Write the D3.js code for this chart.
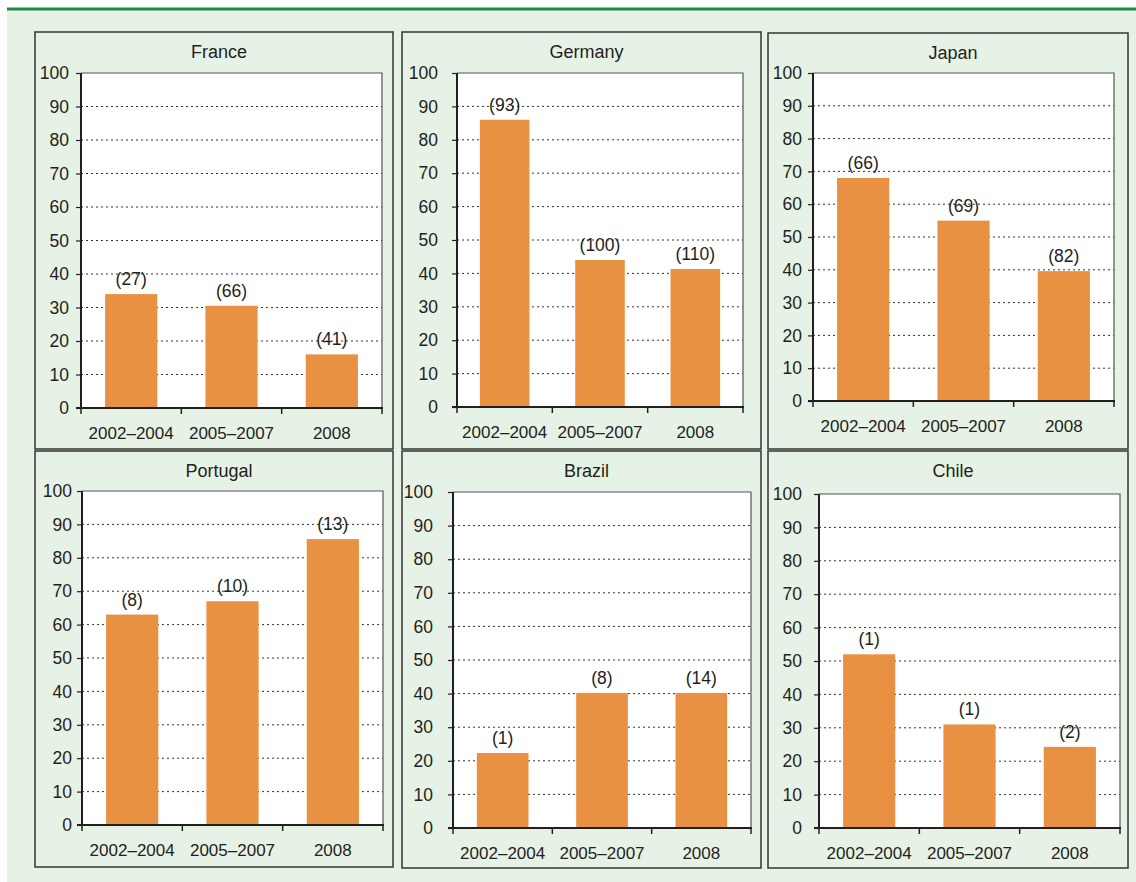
<!DOCTYPE html>
<html>
<head>
<meta charset="utf-8">
<script src="https://cdn.jsdelivr.net/npm/d3@7"></script>
<style>
  body { margin: 0; background: #fff; }
  svg { display: block; font-family: "Liberation Sans", Arial, sans-serif; }
</style>
</head>
<body>
<script>
// ---- data ----
var countries = ["France", "Germany", "Japan", "Portugal", "Brazil", "Chile"];
var periods = ["2002\u20132004", "2005\u20132007", "2008"];
var yTicks = [0, 10, 20, 30, 40, 50, 60, 70, 80, 90, 100];

var shares = [
    [34, 30.5, 16],     // France
    [86, 44, 41.3],     // Germany
    [68, 55, 39.6],     // Japan
    [63, 67, 85.6],     // Portugal
    [22.3, 40.2, 40.2], // Brazil
    [52, 31, 24.3]      // Chile
];

var counts = [
    ["(27)", "(66)", "(41)"],
    ["(93)", "(100)", "(110)"],
    ["(66)", "(69)", "(82)"],
    ["(8)", "(10)", "(13)"],
    ["(1)", "(8)", "(14)"],
    ["(1)", "(1)", "(2)"]
];

// ---- layout ----
var width = 1136, height = 882;
var ink = "#231f20", barColor = "#e89142", bg = "#e6f2e5";

// outer panel boxes [x0, y0, x1, y1]
var panelBoxes = [
    [35, 32, 393, 449], [402, 32, 761, 449], [768, 33, 1128, 449],
    [35, 451, 393, 867], [402, 451, 761, 868], [768, 451, 1128, 868]
];
// plot areas [x0, y0, x1, y1]
var plotBoxes = [
    [81, 73, 382, 408], [457, 73, 743, 407], [813, 73, 1114, 401],
    [82, 491, 383, 825], [453, 492, 751, 828], [819, 494, 1120, 828]
];
var labelGaps = [12, 19, 11, 10, 20, 17];

var svg = d3.select("body").append("svg")
    .attr("width", width)
    .attr("height", height);

svg.append("rect")
    .attr("x", 7).attr("y", 9)
    .attr("width", width - 7).attr("height", height - 9)
    .attr("fill", bg);

svg.append("line")
    .attr("x1", 7).attr("x2", width)
    .attr("y1", 9).attr("y2", 9)
    .attr("stroke", "#1a8a4c")
    .attr("stroke-width", 3);

countries.forEach(function(name, i) {
    var pb = panelBoxes[i], b = plotBoxes[i];
    var g = svg.append("g").attr("class", "panel");

    g.append("rect")
        .attr("x", pb[0]).attr("y", pb[1])
        .attr("width", pb[2] - pb[0]).attr("height", pb[3] - pb[1])
        .attr("fill", bg)
        .attr("stroke", "#333")
        .attr("stroke-width", 1.5);

    g.append("text")
        .attr("x", (pb[0] + pb[2]) / 2 + 5)
        .attr("y", pb[1] + 26)
        .attr("text-anchor", "middle")
        .attr("font-size", "18px")
        .attr("fill", ink)
        .text(name);

    var x = d3.scaleBand()
        .domain(periods)
        .range([b[0], b[2]])
        .paddingInner(0.48)
        .paddingOuter(0.24);

    var y = d3.scaleLinear()
        .domain([0, 100])
        .range([b[3], b[1]]);

    // plot area
    g.append("rect")
        .attr("x", b[0]).attr("y", b[1])
        .attr("width", b[2] - b[0]).attr("height", b[3] - b[1])
        .attr("fill", "#fff");

    // gridlines
    g.selectAll(".grid")
        .data(yTicks.filter(function(t) { return t > 0 && t < 100; }))
        .enter().append("line")
        .attr("class", "grid")
        .attr("x1", b[0]).attr("x2", b[2])
        .attr("y1", function(d) { return y(d); })
        .attr("y2", function(d) { return y(d); })
        .attr("stroke", "#333")
        .attr("stroke-width", 1)
        .attr("stroke-dasharray", "2,3");

    // top and right frame
    g.append("path")
        .attr("d", "M" + b[0] + "," + b[1] + "H" + b[2] + "V" + b[3])
        .attr("fill", "none")
        .attr("stroke", "#555")
        .attr("stroke-width", 1.2);

    // bars
    g.selectAll(".bar")
        .data(shares[i])
        .enter().append("rect")
        .attr("class", "bar")
        .attr("x", function(d, j) { return x(periods[j]); })
        .attr("y", function(d) { return y(d); })
        .attr("width", x.bandwidth())
        .attr("height", function(d) { return y(0) - y(d); })
        .attr("fill", barColor);

    // count labels
    g.selectAll(".count")
        .data(shares[i])
        .enter().append("text")
        .attr("class", "count")
        .attr("x", function(d, j) { return x(periods[j]) + x.bandwidth() / 2; })
        .attr("y", function(d) { return y(d) - 9; })
        .attr("text-anchor", "middle")
        .attr("font-size", "17.5px")
        .attr("fill", ink)
        .text(function(d, j) { return counts[i][j]; });

    // y axis
    var yAxis = g.append("g")
        .attr("transform", "translate(" + b[0] + ",0)")
        .call(d3.axisLeft(y).tickValues(yTicks).tickSize(5).tickPadding(labelGaps[i] - 5));
    yAxis.select(".domain").remove();
    yAxis.selectAll("line").attr("stroke", ink).attr("stroke-width", 1.2);
    yAxis.selectAll("text")
        .attr("font-size", "17.5px")
        .attr("font-family", "Liberation Sans, Arial, sans-serif")
        .attr("fill", ink);

    g.append("line")
        .attr("x1", b[0]).attr("x2", b[0])
        .attr("y1", b[1]).attr("y2", b[3] + 1)
        .attr("stroke", ink).attr("stroke-width", 2);

    // x axis
    var step = x.step();
    g.append("line")
        .attr("x1", b[0] - 5).attr("x2", b[2] + 1)
        .attr("y1", b[3]).attr("y2", b[3])
        .attr("stroke", ink).attr("stroke-width", 2);

    g.selectAll(".xtick")
        .data(d3.range(periods.length + 1))
        .enter().append("line")
        .attr("class", "xtick")
        .attr("x1", function(k) { return b[0] + k * step; })
        .attr("x2", function(k) { return b[0] + k * step; })
        .attr("y1", b[3]).attr("y2", b[3] + 6)
        .attr("stroke", ink).attr("stroke-width", 1.5);

    g.selectAll(".xlabel")
        .data(periods)
        .enter().append("text")
        .attr("class", "xlabel")
        .attr("x", function(d) { return x(d) + x.bandwidth() / 2; })
        .attr("y", b[3] + 31)
        .attr("text-anchor", "middle")
        .attr("font-size", "17px")
        .attr("fill", ink)
        .text(function(d) { return d; });
});
</script>
</body>
</html>
